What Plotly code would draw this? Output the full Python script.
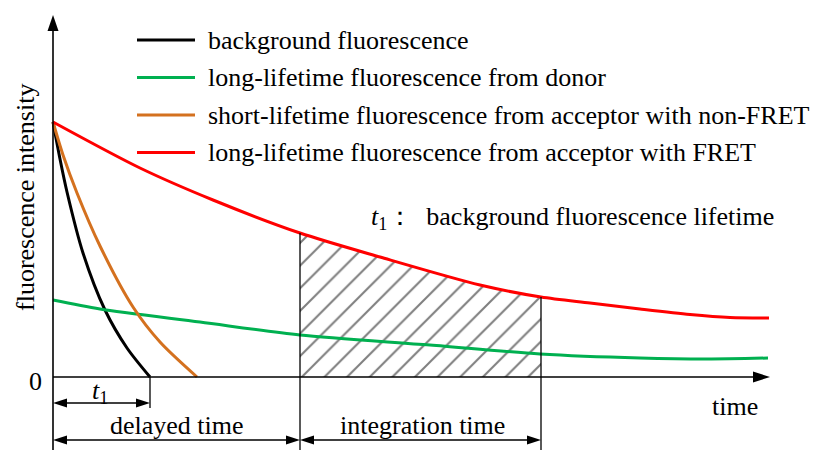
import plotly.graph_objects as go

# ---------------- data (arbitrary units) ----------------
bg_t = [0, 7, 14, 30, 52, 74, 97]
bg_i = [255, 218, 185, 124, 67, 29, 0]

acc_short_t = [0, 10, 24, 47, 80, 107, 144]
acc_short_i = [255, 222, 184, 131, 70, 35, 0]

donor_t = [0, 47, 147, 247, 377, 487, 587, 654, 715]
donor_i = [77, 68, 55, 42, 32, 23, 19, 18, 19]

acc_fret_t = [0, 87, 160, 247, 327, 427, 488, 537, 587, 637, 677, 716]
acc_fret_i = [255, 209, 177, 144, 120, 92, 80, 74, 68, 62.5, 59.5, 59]

t1_end = 97          # background fluorescence lifetime
delay_end = 247      # end of delayed time
integ_end = 488      # end of integration time
t_axis_end = 717

legend_names = ["background fluorescence",
                "long-lifetime fluorescence from donor",
                "short-lifetime fluorescence from acceptor with non-FRET",
                "long-lifetime fluorescence from acceptor with FRET"]
colors = ["#000000", "#00b050", "#d4711f", "#ff0000"]

FONT = "Times New Roman, Times, Liberation Serif, DejaVu Serif, Noto Serif, serif"
FS = 26

fig = go.Figure()

# hatched integration region (under FRET curve)
h_t = [t for t in acc_fret_t if delay_end <= t <= integ_end]
h_i = [v for t, v in zip(acc_fret_t, acc_fret_i) if delay_end <= t <= integ_end]
fig.add_trace(go.Scatter(x=h_t, y=h_i, mode="lines", line=dict(width=0, shape="spline", smoothing=0.8),
                         fill="tozeroy", fillcolor="rgba(0,0,0,0)",
                         fillpattern=dict(shape="/", size=16, solidity=0.13,
                                          fgcolor="black", bgcolor="white"),
                         showlegend=False, hoverinfo="skip"))

series = [(bg_t, bg_i), (donor_t, donor_i), (acc_short_t, acc_short_i), (acc_fret_t, acc_fret_i)]
for (tx, iy), c, n in zip(series, colors, legend_names):
    fig.add_trace(go.Scatter(x=tx, y=iy, mode="lines", name=n,
                             line=dict(color=c, width=3, shape="spline", smoothing=0.8),
                             showlegend=False))

shapes = []
def line(x0, y0, x1, y1, w=1.3, c="black"):
    shapes.append(dict(type="line", x0=x0, y0=y0, x1=x1, y1=y1, xref="x", yref="y",
                       line=dict(color=c, width=w), layer="above"))

def head(xt, yt, dx, dy, L=14, W=4.5):
    bx, by = xt - dx * L, yt - dy * L
    px, py = -dy * W, dx * W
    path = f"M{xt},{yt} L{bx+px},{by+py} L{bx-px},{by-py} Z"
    shapes.append(dict(type="path", path=path, xref="x", yref="y",
                       fillcolor="black", line=dict(width=0), layer="above"))

ybot = -73
# axes
line(0, ybot, 0, 350, w=1.6)
head(0, 362, 0, 1, L=16, W=5.5)
line(0, 0, t_axis_end - 10, 0, w=1.6)
head(t_axis_end, 0, 1, 0, L=17, W=5.5)

# dimension verticals
red_at = dict(zip(acc_fret_t, acc_fret_i))
line(delay_end, ybot, delay_end, red_at[delay_end])
line(integ_end, ybot, integ_end, red_at[integ_end])
line(t1_end, 0, t1_end, -31)

# dimension arrows
def dim(x0, x1, y):
    line(x0 + 8, y, x1 - 8, y)
    head(x0, y, -1, 0)
    head(x1, y, 1, 0)

dim(0, t1_end, -26)
dim(0, delay_end, -63)
dim(delay_end, integ_end, -63)

# legend
leg_y = [337, 299.5, 262, 224.5]
annotations = []
for yy, c, n in zip(leg_y, colors, legend_names):
    line(84, yy, 142, yy, w=3, c=c)
    annotations.append(dict(x=153, y=yy, text=n, showarrow=False, xanchor="left",
                            yanchor="middle", font=dict(family=FONT, size=FS, color="black")))

def txt(x, y, s, xa="center", angle=0):
    annotations.append(dict(x=x, y=y, text=s, showarrow=False, xanchor=xa, yanchor="middle",
                            textangle=angle, font=dict(family=FONT, size=FS, color="black")))

txt(316, 159, "<i>t</i><sub>1</sub>：  background fluorescence lifetime", xa="left")
txt(47, -15, "<i>t</i><sub>1</sub>")
txt(124, -48, "delayed time")
txt(369, -48, "integration time")
txt(682, -29, "time")
txt(-18, -4, "0")
txt(-28, 179, "fluorescence intensity", angle=-90)

fig.update_layout(width=822, height=450, margin=dict(l=0, r=0, t=0, b=0),
                  paper_bgcolor="white", plot_bgcolor="white",
                  font=dict(family=FONT),
                  xaxis=dict(range=[-53, 769], visible=False, fixedrange=True),
                  yaxis=dict(range=[-73, 377], visible=False, fixedrange=True),
                  shapes=shapes, annotations=annotations, showlegend=False)

fig.write_html("out.html")
